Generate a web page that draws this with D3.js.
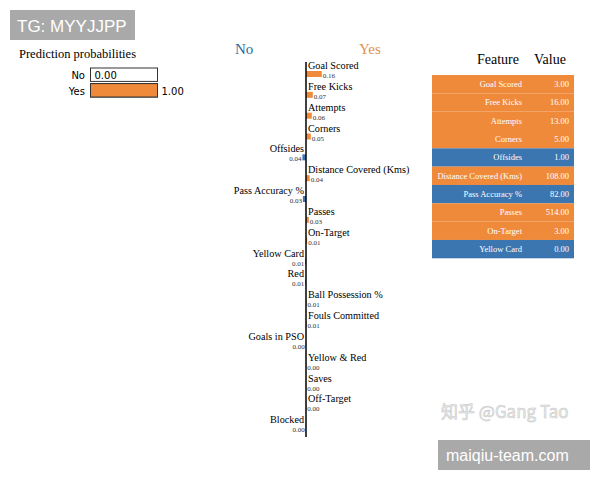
<!DOCTYPE html>
<html>
<head>
<meta charset="utf-8">
<script src="https://cdnjs.cloudflare.com/ajax/libs/d3/7.8.5/d3.min.js"></script>
<style>
    body { margin: 0; background: #fff; }
    svg { display: block; }
    .serif { font-family: "Liberation Serif", "DejaVu Serif", serif; }
    .sans { font-family: "DejaVu Sans", "Liberation Sans", sans-serif; }
</style>
</head>
<body>
<svg width="600" height="480"></svg>
<script>
const width = 600;
const height = 480;

const orange = "#ef8a3b";
const blue = "#3b76b0";

// prediction probabilities
const classes = ["No", "Yes"];
const probs = [0.00, 1.00];

// feature weights (LIME explanation)
const features = ["Goal Scored", "Free Kicks", "Attempts", "Corners", "Offsides",
    "Distance Covered (Kms)", "Pass Accuracy %", "Passes", "On-Target", "Yellow Card",
    "Red", "Ball Possession %", "Fouls Committed", "Goals in PSO", "Yellow & Red",
    "Saves", "Off-Target", "Blocked"];
const weights = [0.158, 0.068, 0.058, 0.048, -0.036, 0.037, -0.031, 0.028, 0.012, -0.008,
    -0.007, 0.006, 0.006, -0.003, 0.002, 0.002, 0.002, -0.002];

// feature value table
const tableFeatures = ["Goal Scored", "Free Kicks", "Attempts", "Corners", "Offsides",
    "Distance Covered (Kms)", "Pass Accuracy %", "Passes", "On-Target", "Yellow Card"];
const tableValues = [3, 16, 13, 5, 1, 108, 82, 514, 3, 0];

const svg = d3.select("svg");

// watermark top-left
svg.append("rect")
    .attr("x", 10).attr("y", 10).attr("width", 125).attr("height", 30)
    .attr("fill", "#a9a9a9");
svg.append("text")
    .attr("x", 17).attr("y", 32)
    .style("font-family", "Liberation Sans, Arial, sans-serif")
    .style("font-size", "17px")
    .attr("fill", "#fff")
    .text("TG: MYYJJPP");

// ---------- prediction probabilities ----------
svg.append("text")
    .attr("x", 19).attr("y", 58)
    .attr("class", "serif")
    .style("font-size", "12.5px")
    .text("Prediction probabilities");

const pScale = d3.scaleLinear().domain([0, 1]).range([90.5, 157.5]);
const pBand = d3.scaleBand().domain(classes).range([68, 97]).paddingInner(0.14);

const pg = svg.append("g");
pg.selectAll("rect.bg")
    .data(classes)
    .join("rect")
    .attr("x", pScale(0))
    .attr("y", d => pBand(d))
    .attr("width", pScale(1) - pScale(0))
    .attr("height", pBand.bandwidth())
    .attr("fill", "#fff")
    .attr("stroke", "#333")
    .attr("stroke-width", 1);

pg.selectAll("rect.val")
    .data(classes)
    .join("rect")
    .attr("x", pScale(0))
    .attr("y", d => pBand(d))
    .attr("width", (d, i) => pScale(probs[i]) - pScale(0))
    .attr("height", pBand.bandwidth())
    .attr("fill", (d, i) => i === 0 ? blue : orange)
    .attr("stroke", "#333")
    .attr("stroke-width", 1);

pg.selectAll("text.cls")
    .data(classes)
    .join("text")
    .attr("class", "sans")
    .attr("x", 85)
    .attr("y", d => pBand(d) + pBand.bandwidth() - 2)
    .attr("text-anchor", "end")
    .style("font-size", "10px")
    .text(d => d);

pg.selectAll("text.pv")
    .data(probs)
    .join("text")
    .attr("class", "sans")
    .attr("x", d => pScale(d) + 4)
    .attr("y", (d, i) => pBand(classes[i]) + pBand.bandwidth() - 2)
    .style("font-size", "10px")
    .text(d => d.toFixed(2));

// ---------- feature weights ----------
const axisX = 306;
const wScale = d3.scaleLinear().domain([0, 0.16]).range([0, 16]);
const rows = d3.scaleBand().domain(features).range([62, 437]);

svg.append("text")
    .attr("x", 235).attr("y", 54)
    .attr("class", "serif")
    .style("font-size", "15px")
    .attr("fill", "#2f6d9c")
    .text("No");
svg.append("text")
    .attr("x", 359).attr("y", 54)
    .attr("class", "serif")
    .style("font-size", "15px")
    .attr("fill", "#e0914f")
    .text("Yes");

const rowG = svg.selectAll("g.row")
    .data(features)
    .join("g")
    .attr("class", "row")
    .attr("transform", d => `translate(0,${rows(d)})`);

rowG.append("rect")
    .attr("x", (d, i) => weights[i] >= 0 ? axisX : axisX - wScale(-weights[i]))
    .attr("y", 9)
    .attr("width", (d, i) => wScale(Math.abs(weights[i])))
    .attr("height", 6)
    .attr("fill", (d, i) => weights[i] >= 0 ? orange : blue);

rowG.append("text")
    .attr("class", "serif")
    .attr("x", (d, i) => weights[i] >= 0 ? axisX + 2 : axisX - 2)
    .attr("y", 7)
    .attr("text-anchor", (d, i) => weights[i] >= 0 ? "start" : "end")
    .style("font-size", "10.2px")
    .text(d => d);

rowG.append("text")
    .attr("class", "serif")
    .attr("x", (d, i) => weights[i] >= 0 ? axisX + wScale(weights[i]) + 1 : axisX - wScale(-weights[i]) - 1)
    .attr("y", 16)
    .attr("text-anchor", (d, i) => weights[i] >= 0 ? "start" : "end")
    .style("font-size", "7px")
    .attr("fill", "#333")
    .text((d, i) => Math.abs(weights[i]).toFixed(2));

// axis line
svg.append("line")
    .attr("x1", axisX).attr("x2", axisX)
    .attr("y1", 62).attr("y2", 437)
    .attr("stroke", "#000")
    .attr("stroke-width", 1.5);

// ---------- feature / value table ----------
const tRows = d3.scaleBand().domain(tableFeatures).range([75, 258.3]);

svg.append("text")
    .attr("x", 498).attr("y", 64)
    .attr("class", "serif")
    .attr("text-anchor", "middle")
    .style("font-size", "14px")
    .text("Feature");
svg.append("text")
    .attr("x", 550).attr("y", 64)
    .attr("class", "serif")
    .attr("text-anchor", "middle")
    .style("font-size", "14px")
    .text("Value");

const tG = svg.selectAll("g.trow")
    .data(tableFeatures)
    .join("g")
    .attr("class", "trow")
    .attr("transform", d => `translate(0,${tRows(d)})`);

tG.append("rect")
    .attr("x", 432)
    .attr("width", 142)
    .attr("height", tRows.bandwidth())
    .attr("fill", d => weights[features.indexOf(d)] >= 0 ? orange : blue);

tG.append("text")
    .attr("class", "serif")
    .attr("x", 522)
    .attr("y", tRows.bandwidth() / 2 + 3)
    .attr("text-anchor", "end")
    .style("font-size", "8.5px")
    .attr("fill", "#fff")
    .text(d => d);

tG.append("text")
    .attr("class", "serif")
    .attr("x", 569)
    .attr("y", tRows.bandwidth() / 2 + 3)
    .attr("text-anchor", "end")
    .style("font-size", "8.5px")
    .attr("fill", "#fff")
    .text((d, i) => tableValues[i].toFixed(2));

// watermarks bottom-right
svg.append("text")
    .attr("x", 441).attr("y", 418)
    .style("font-family", "Noto Sans CJK SC, sans-serif")
    .style("font-size", "17px")
    .attr("fill", "#ececec")
    .attr("stroke", "#c4c4c4")
    .attr("stroke-width", 0.5)
    .text("知乎 @Gang Tao");

svg.append("rect")
    .attr("x", 438).attr("y", 440).attr("width", 152).attr("height", 30)
    .attr("fill", "#a9a9a9");
svg.append("text")
    .attr("x", 446).attr("y", 461)
    .style("font-family", "Liberation Sans, Arial, sans-serif")
    .style("font-size", "16px")
    .attr("fill", "#fff")
    .text("maiqiu-team.com");
</script>
</body>
</html>
